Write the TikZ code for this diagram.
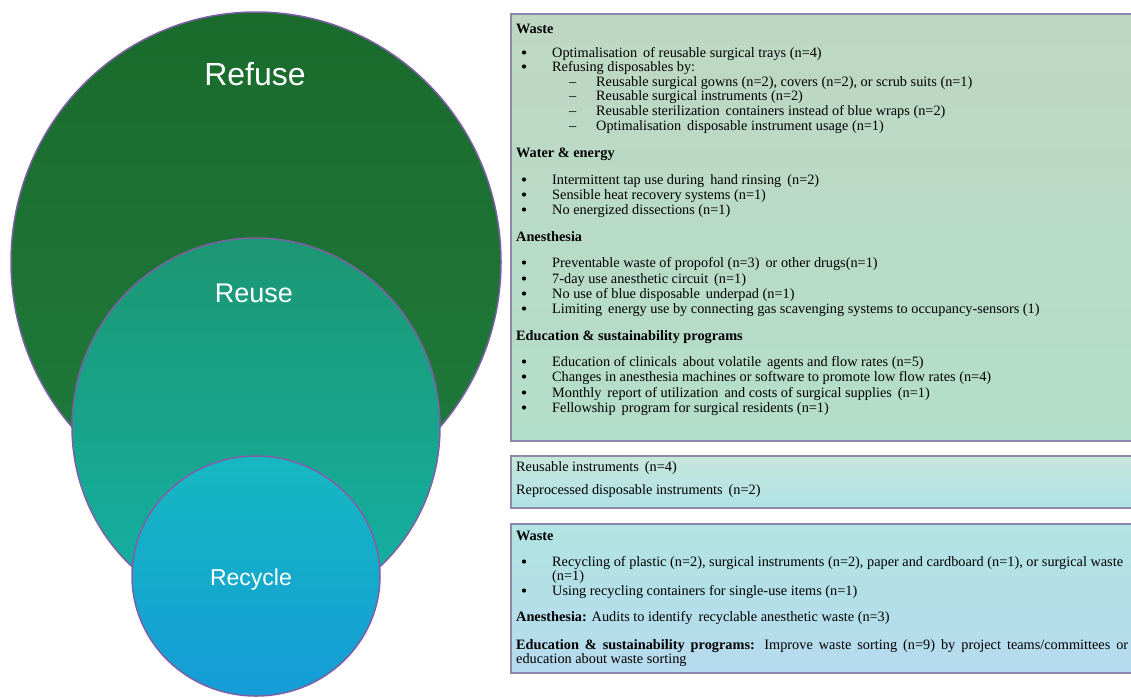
\documentclass[tikz,border=0pt]{standalone}
\usepackage{fontspec}
\setmainfont{Liberation Serif}
\newfontfamily\ringfont{Liberation Sans}
\usetikzlibrary{shapes.geometric,positioning}

\definecolor{ringline}{HTML}{7E5FA6}
\definecolor{refusetop}{HTML}{1A6B2C}
\definecolor{refusebot}{HTML}{1F7B3D}
\definecolor{reusetop}{HTML}{1C9773}
\definecolor{reusebot}{HTML}{13B2A6}
\definecolor{recycletop}{HTML}{16B8C0}
\definecolor{recyclebot}{HTML}{149CD8}
\definecolor{boxline}{HTML}{8C88AA}
\definecolor{wastetop}{HTML}{BED7C2}
\definecolor{wastebot}{HTML}{B3DECB}
\definecolor{reusebtop}{HTML}{C6E6DC}
\definecolor{reusebbot}{HTML}{B1E2E6}
\definecolor{recbtop}{HTML}{B1E4E2}
\definecolor{recbbot}{HTML}{B6DAEE}

\tikzset{
  ring/.style={ellipse,draw=ringline,line width=1.5pt,inner sep=0pt},
  ringlabel/.style={text=white,anchor=base,inner sep=0pt},
  infobox/.style={draw=boxline,line width=1.3pt},
  txt/.style={anchor=base west,inner sep=0pt,font=\fontsize{14.3}{15}\selectfont},
  head/.style={txt,font=\fontsize{14.3}{15}\selectfont\bfseries},
}

\begin{document}
\begin{tikzpicture}[x=1pt,y=-1pt]
\useasboundingbox (0,0) rectangle (1131,697);
\clip (0,0) rectangle (1131,697);

% the three rings
\node[ring,minimum width=490pt,minimum height=500pt,top color=refusetop,bottom color=refusebot] (refuse) at (256,262) {};
\node[ring,minimum width=368pt,minimum height=378pt,top color=reusetop,bottom color=reusebot] (reuse) at (256,427) {};
\node[ring,minimum width=248pt,minimum height=240pt,top color=recycletop,bottom color=recyclebot] (recycle) at (256,576) {};

\node[ringlabel,font=\ringfont\fontsize{32}{32}\selectfont] (refuselbl) at (255,85) {Refuse};
\node[ringlabel,font=\ringfont\fontsize{27}{27}\selectfont] (reuselbl) at (254,302) {Reuse};
\node[ringlabel,font=\ringfont\fontsize{23}{23}\selectfont] (recyclelbl) at (251,585) {Recycle};

% boxes
\draw[infobox,top color=wastetop,bottom color=wastebot] (511,14) rectangle (1140,441);
\draw[infobox,top color=reusebtop,bottom color=reusebbot] (511,456) rectangle (1140,508);
\draw[infobox,top color=recbtop,bottom color=recbbot] (511,524) rectangle (1140,673);

% bullets
\foreach \y in {57,71,184,199,214,267,283,298,313,366,381,397,412,566,595}
  \fill (524,\y-4.5) circle (2.1pt);

% refuse box
\node[head] (w1) at (516,33) {Waste};
\node[txt] (t1) at (552,57) {Optimalisation\, of reusable surgical trays (n=4)};
\node[txt] (t2) at (552,71) {Refusing disposables by:};
\foreach \y in {86,100,115,130}
  \node[txt] (d\y) at (569,\y) {--};
\node[txt] (s1) at (596,86) {Reusable surgical gowns (n=2), covers (n=2), or scrub suits (n=1)};
\node[txt] (s2) at (596,100) {Reusable surgical instruments (n=2)};
\node[txt] (s3) at (596,115) {Reusable sterilization\, containers instead of blue wraps (n=2)};
\node[txt] (s4) at (596,130) {Optimalisation\, disposable instrument usage (n=1)};

\node[head] (w2) at (516,157) {Water \& energy};
\node[txt] (t3) at (552,184) {Intermittent tap use during\, hand rinsing\, (n=2)};
\node[txt] (t4) at (552,199) {Sensible heat recovery systems (n=1)};
\node[txt] (t5) at (552,214) {No energized dissections (n=1)};

\node[head] (w3) at (516,241) {Anesthesia};
\node[txt] (t6) at (552,267) {Preventable waste of propofol (n=3)\, or other drugs(n=1)};
\node[txt] (t7) at (552,283) {7-day use anesthetic circuit\, (n=1)};
\node[txt] (t8) at (552,298) {No use of blue disposable\, underpad (n=1)};
\node[txt] (t9) at (552,313) {Limiting\, energy use by connecting gas scavenging systems to occupancy-sensors (1)};

\node[head] (w4) at (516,340) {Education \& sustainability programs};
\node[txt] (t10) at (552,366) {Education of clinicals\, about volatile\, agents and flow rates (n=5)};
\node[txt] (t11) at (552,381) {Changes in anesthesia machines or software to promote low flow rates (n=4)};
\node[txt] (t12) at (552,397) {Monthly\, report of utilization\, and costs of surgical supplies\, (n=1)};
\node[txt] (t13) at (552,412) {Fellowship\, program for surgical residents (n=1)};

% reuse box
\node[txt] (r1) at (516,471) {Reusable instruments\, (n=4)};
\node[txt] (r2) at (516,494) {Reprocessed disposable instruments\, (n=2)};

% recycle box
\node[head] (w5) at (516,540) {Waste};
\node[txt] (c1) at (552,566) {Recycling of plastic (n=2), surgical instruments (n=2), paper and cardboard (n=1), or surgical waste};
\node[txt] (c1x) at (552,580) {(n=1)};
\node[txt] (c2) at (552,595) {Using recycling containers for single-use items (n=1)};
\node[txt] (c3) at (516,621) {\textbf{Anesthesia:} Audits to identify\, recyclable anesthetic waste (n=3)};
\node[txt] (c4) at (516,649) {\makebox[612pt][s]{\textbf{Education \& sustainability programs:} Improve waste sorting (n=9) by project teams/committees or}};
\node[txt] (c5) at (516,663) {education about waste sorting};
\end{tikzpicture}
\end{document}
